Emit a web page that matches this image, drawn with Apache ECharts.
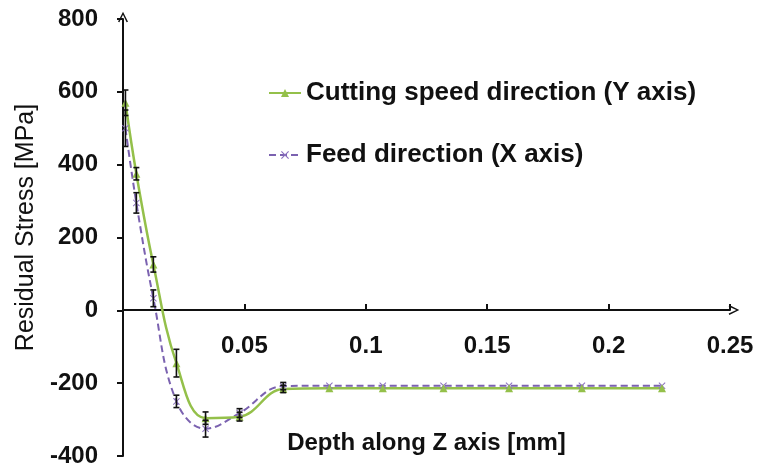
<!DOCTYPE html>
<html>
<head>
<meta charset="utf-8">
<script src="https://cdn.jsdelivr.net/npm/echarts@6/dist/echarts.min.js"></script>
<style>
  html, body { margin: 0; padding: 0; background: #fff; }
  #main { width: 760px; height: 468px; }
</style>
</head>
<body>
<div id="main"></div>
<script>
// depth along Z axis [mm]
var depth = [0.001, 0.0055, 0.0125, 0.022, 0.034, 0.048, 0.066, 0.085, 0.107, 0.132, 0.159, 0.189, 0.222];
// cutting speed direction (Y axis) [MPa] and its error
var cuttingY = [570, 375, 126, -145, -296, -292, -216, -214, -214, -214, -214, -214, -214];
var cuttingErr = [35, 17, 21, 38, 17, 12, 10, 0, 0, 0, 0, 0, 0];
// feed direction (X axis) [MPa] and its error
var feedX = [500, 295, 33, -250, -325, -282, -208, -207, -207, -207, -207, -207, -207];
var feedErr = [50, 28, 23, 17, 23, 12, 10, 0, 0, 0, 0, 0, 0];

var yTicks = { min: -400, max: 800, step: 200 };
var xTicks = { min: 0, max: 0.25, step: 0.05 };

var nameY = 'Cutting speed direction (Y axis)';
var nameX = 'Feed direction (X axis)';

function pairs(xs, ys) {
  return xs.map(function (x, i) { return [x, ys[i]]; });
}
function errRows(xs, ys, es) {
  var out = [];
  xs.forEach(function (x, i) {
    if (es[i] > 0) out.push([x, ys[i] - es[i], ys[i] + es[i]]);
  });
  return out;
}

function renderErr(params, api) {
  var lo = api.coord([api.value(0), api.value(1)]);
  var hi = api.coord([api.value(0), api.value(2)]);
  var w = 3;
  var st = { stroke: '#111', lineWidth: 1.6 };
  return {
    type: 'group',
    children: [
      { type: 'line', shape: { x1: lo[0], y1: lo[1], x2: hi[0], y2: hi[1] }, style: st },
      { type: 'line', shape: { x1: lo[0] - w, y1: lo[1], x2: lo[0] + w, y2: lo[1] }, style: st },
      { type: 'line', shape: { x1: hi[0] - w, y1: hi[1], x2: hi[0] + w, y2: hi[1] }, style: st }
    ]
  };
}

var arrow = 'path://M0,10L5,0L10,10L8.6,10.6L5,3L1.4,10.6Z';
var cross = 'path://M0,1L1,0L5,4L9,0L10,1L6,5L10,9L9,10L5,6L1,10L0,9L4,5Z';
var font = 'Liberation Sans, Arial, sans-serif';

var chart = echarts.init(document.getElementById('main'));
chart.setOption({
  animation: false,
  backgroundColor: '#fff',
  textStyle: { fontFamily: font },
  grid: { left: 123, right: 30, top: 19, bottom: 12, containLabel: false, outerBoundsMode: 'none' },
  legend: {
    data: [nameY, nameX],
    orient: 'vertical',
    left: 263,
    top: 75,
    itemGap: 36,
    itemWidth: 32,
    itemHeight: 10,
    textStyle: { fontSize: 26, fontWeight: 'bold', lineHeight: 25, color: '#111', fontFamily: font }
  },
  xAxis: {
    type: 'value',
    min: xTicks.min,
    max: xTicks.max,
    interval: xTicks.step,
    // sit the axis on the zero line of the y scale
    offset: -146,
    name: 'Depth along Z axis [mm]',
    nameLocation: 'middle',
    nameGap: 121,
    nameTextStyle: { fontSize: 24, fontWeight: 'bold', color: '#111' },
    splitLine: { show: false },
    axisLine: { onZero: false, symbol: ['none', arrow], symbolSize: [10, 12], symbolOffset: [0, 4],
      lineStyle: { color: '#111', width: 2 } },
    axisTick: { show: true, inside: true, length: 6, lineStyle: { color: '#111', width: 2 } },
    axisLabel: {
      margin: 24, fontSize: 24, fontWeight: 'bold', color: '#111', showMaxLabel: true,
      formatter: function (v) { return v === 0 ? '' : String(Number(v.toFixed(2))); }
    }
  },
  yAxis: {
    type: 'value',
    min: yTicks.min,
    max: yTicks.max,
    interval: yTicks.step,
    name: 'Residual Stress [MPa]',
    nameLocation: 'middle',
    nameGap: 83,
    nameTextStyle: { fontSize: 25, color: '#111', padding: [0, 0, 0, 20] },
    splitLine: { show: false },
    axisLine: { onZero: false, symbol: ['none', arrow], symbolSize: [10, 12], symbolOffset: [0, 2],
      lineStyle: { color: '#111', width: 2 } },
    axisTick: { show: true, length: 6, lineStyle: { color: '#111', width: 2 } },
    axisLabel: { margin: 25, fontSize: 24, fontWeight: 'bold', color: '#111' }
  },
  series: [
    {
      name: nameX,
      type: 'line',
      smooth: 0.4,
      data: pairs(depth, feedX),
      symbol: cross,
      symbolSize: 7,
      showAllSymbol: true,
      lineStyle: { color: '#7b62b0', width: 2, type: [7, 4] },
      itemStyle: { color: '#8a70bf' }
    },
    {
      name: nameY,
      type: 'line',
      smooth: 0.4,
      data: pairs(depth, cuttingY),
      symbol: 'triangle',
      symbolSize: 8,
      showAllSymbol: true,
      lineStyle: { color: '#94c04a', width: 2.5 },
      itemStyle: { color: '#94c04a' }
    },
    {
      name: 'err-y',
      type: 'custom',
      renderItem: renderErr,
      data: errRows(depth, cuttingY, cuttingErr),
      encode: { x: 0, y: [1, 2] },
      z: 5
    },
    {
      name: 'err-x',
      type: 'custom',
      renderItem: renderErr,
      data: errRows(depth, feedX, feedErr),
      encode: { x: 0, y: [1, 2] },
      z: 5
    }
  ]
});
</script>
</body>
</html>
